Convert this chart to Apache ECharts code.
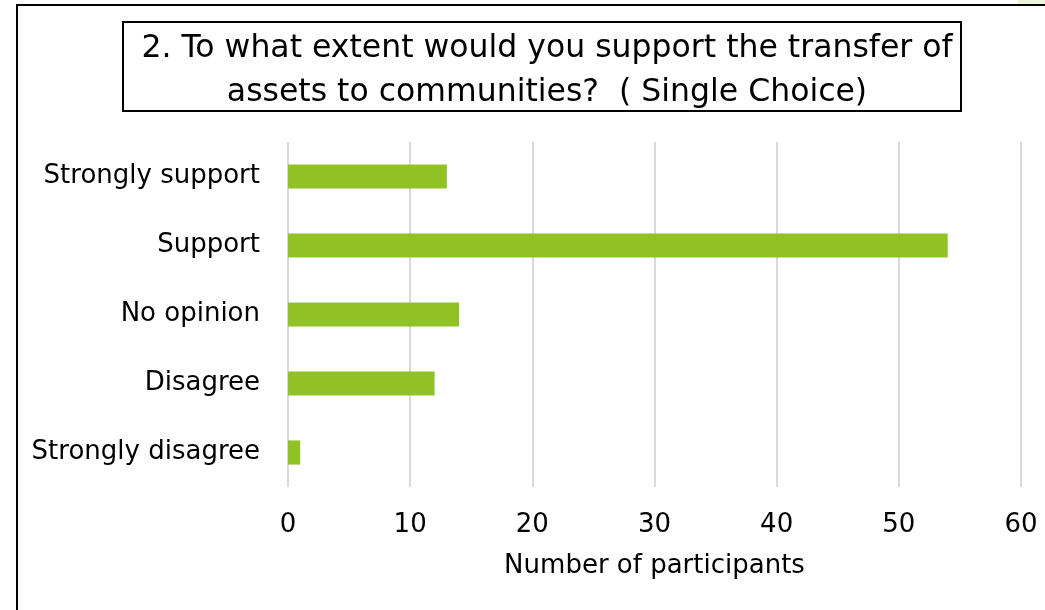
<!DOCTYPE html>
<html>
<head>
<meta charset="utf-8">
<script src="https://cdn.jsdelivr.net/npm/echarts@6/dist/echarts.min.js"></script>
<style>html,body{margin:0;padding:0;background:#fff;}#c{width:1045px;height:610px;}</style>
</head>
<body>
<div id="c"></div>
<script>
var categories = ['Strongly support', 'Support', 'No opinion', 'Disagree', 'Strongly disagree'];
var values = [13, 54, 14, 12, 1];
var xTicks = [0, 10, 20, 30, 40, 50, 60];
var titleText = '2. To what extent would you support the transfer of\nassets to communities?  ( Single Choice)';
var axisName = 'Number of participants';
var FONT = 'DejaVu Sans';

var chart = echarts.init(document.getElementById('c'));
chart.setOption({
  backgroundColor: '#fff',
  animation: false,
  title: {
    text: titleText,
    left: 542,
    top: 22,
    textAlign: 'center',
    textStyle: { fontFamily: FONT, fontSize: 31.5, fontWeight: 'normal', color: '#000', lineHeight: 44 }
  },
  graphic: [
    { type: 'rect', shape: { x: 1018, y: 0, width: 27, height: 5 }, style: { fill: '#eef5d8' } },
    { type: 'line', shape: { x1: 17, y1: 5, x2: 17, y2: 610 }, style: { stroke: '#000', lineWidth: 2 } },
    { type: 'line', shape: { x1: 16, y1: 5, x2: 1045, y2: 5 }, style: { stroke: '#000', lineWidth: 2 } },
    { type: 'rect', shape: { x: 123, y: 22, width: 838, height: 89 }, style: { fill: 'none', stroke: '#000', lineWidth: 2 } }
  ],
  grid: { left: 288, right: 24, top: 142, bottom: 123 },
  xAxis: {
    type: 'value', min: xTicks[0], max: xTicks[xTicks.length - 1], interval: 10,
    axisLine: { show: false }, axisTick: { show: false },
    splitLine: { show: true, lineStyle: { color: '#d9d9d9', width: 2 } },
    axisLabel: { fontFamily: FONT, fontSize: 26, color: '#000', margin: 25 },
    name: axisName, nameLocation: 'middle', nameGap: 66,
    nameTextStyle: { fontFamily: FONT, fontSize: 26, color: '#000' }
  },
  yAxis: {
    type: 'category', data: categories, inverse: true,
    axisLine: { show: false }, axisTick: { show: false },
    axisLabel: { fontFamily: FONT, fontSize: 26, color: '#000', margin: 28 }
  },
  series: [{
    type: 'bar', data: values, barWidth: '35%',
    itemStyle: { color: '#90c226' }
  }]
});
</script>
</body>
</html>
